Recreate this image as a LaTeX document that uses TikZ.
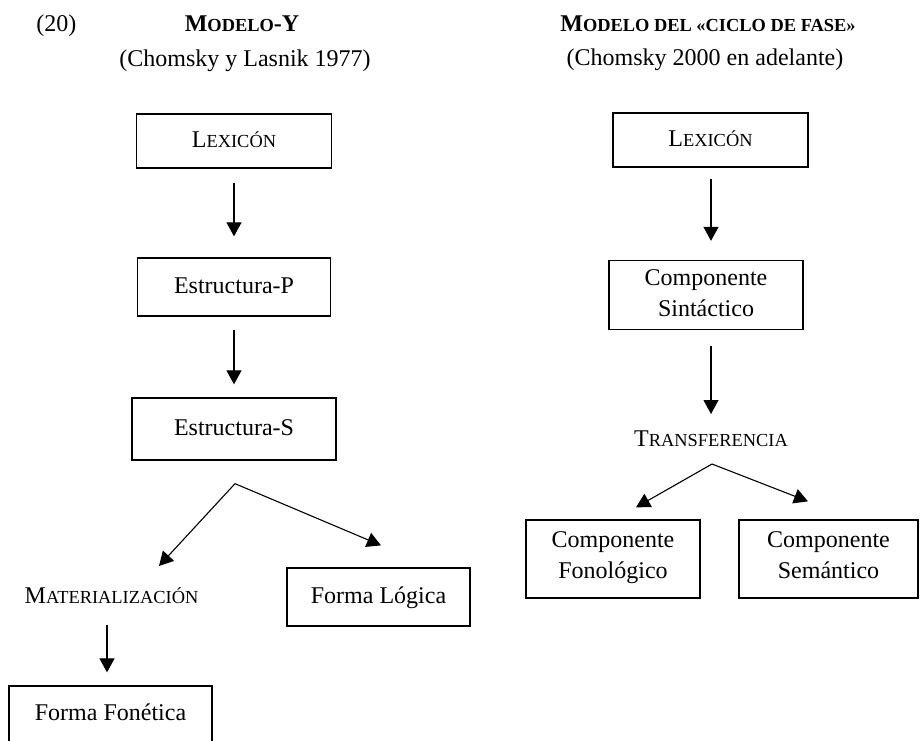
\documentclass[tikz,border=0pt]{standalone}
\usepackage{fontspec}
\setmainfont{Liberation Serif}
\usetikzlibrary{arrows.meta,calc}
% simulated small capitals: capitals set at a reduced size
\newcommand\smallcap[1]{{\fontsize{9.2}{11}\selectfont #1}}

\begin{document}
\begin{tikzpicture}[x=0.5pt,y=-0.5pt,
  font=\fontsize{12}{14}\selectfont,
  box/.style={draw, line width=0.65pt, inner sep=0pt, text height=9pt, text depth=3pt},
  twoline/.style={draw, line width=0.65pt, inner sep=0pt, align=center,
    font=\fontsize{12}{15.5}\selectfont, text height=24.5pt, text depth=5pt},
  label/.style={anchor=base, inner sep=0pt},
  arr/.style={line width=0.55pt, -{Triangle[length=7pt,width=7.5pt]}}]

\useasboundingbox (0,0) rectangle (920,740);

% ---------- titles ----------
\node[label, anchor=base west] (num) at (36,31) {(20)};
\node[label] (titL) at (242,31) {\bfseries M\smallcap{ODELO}-Y};
\node[label] (subL) at (245,66) {(Chomsky y Lasnik 1977)};
\node[label] (titR) at (708,31) {\bfseries M\smallcap{ODELO DEL «CICLO DE FASE»}};
\node[label] (subR) at (705,65) {(Chomsky 2000 en adelante)};

% ---------- Y-model ----------
\node[box, minimum width=97.5pt, minimum height=27pt] (lexL) at (234,141) {L\smallcap{EXICÓN}};
\node[box, minimum width=96.5pt, minimum height=29pt] (estP) at (234,287) {Estructura-P};
\node[box, minimum width=102pt, minimum height=31pt] (estS) at (234,429) {Estructura-S};
\node[label] (mat) at (111.5,603) {M\smallcap{ATERIALIZACIÓN}};
\node[box, minimum width=91.5pt, minimum height=29pt] (formaL) at (378.5,597) {Forma Lógica};
\node[box, minimum width=101.5pt, minimum height=28.5pt] (formaF) at (110.5,714.5) {Forma Fonética};

\draw[arr] ($(lexL.south)+(0,14)$) -- ($(estP.north)+(0,-21)$);
\draw[arr] ($(estP.south)+(0,13)$) -- ($(estS.north)+(0,-13)$);
\coordinate (forkL) at ($(estS.south)+(1,23)$);
\coordinate (tipMat) at (159,566);
\coordinate (tipLog) at ($(formaL.north)+(2.5,-22)$);
\draw[arr] (forkL) -- (tipMat);
\draw[arr] (forkL) -- (tipLog);
\draw[arr] ($(mat.base)+(-4.5,22)$) -- ($(formaF.north)+(-3.5,-13)$);

% ---------- phase-cycle model ----------
\coordinate (axR) at (711,0);
\node[box, minimum width=97.5pt, minimum height=27pt] (lexR) at (710.5,140) {L\smallcap{EXICÓN}};
\node[twoline, text depth=3.5pt, minimum width=97pt, minimum height=34.5pt] (syn) at (706,295) {Componente\\Sintáctico};
\node[label] (transf) at (711,446) {T\smallcap{RANSFERENCIA}};
\node[twoline, minimum width=87pt, minimum height=39pt] (fon) at (613,559) {Componente\\Fonológico};
\node[twoline, minimum width=89.5pt, minimum height=39pt] (sem) at (828.5,559) {Componente\\Semántico};

\draw[arr] ($(lexR.south -| axR)+(0,11)$) -- ($(syn.north -| axR)+(0,-19)$);
\draw[arr] ($(syn.south -| axR)+(0,16)$) -- ($(transf.base)+(0,-32)$);
\coordinate (forkR) at ($(transf.base)+(1,18)$);
\coordinate (tipFon) at ($(fon.north)+(23,-12)$);
\coordinate (tipSem) at ($(sem.north)+(-20.5,-18)$);
\draw[arr] (forkR) -- (tipFon);
\draw[arr] (forkR) -- (tipSem);
\end{tikzpicture}
\end{document}
